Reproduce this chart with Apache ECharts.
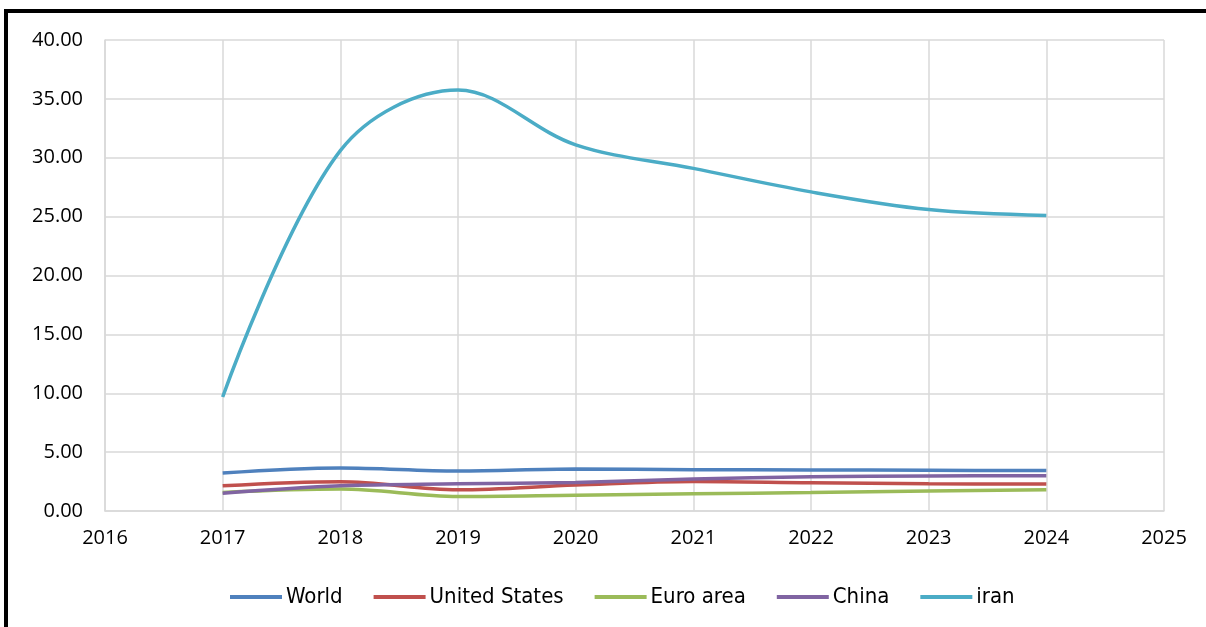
<!DOCTYPE html>
<html>
<head>
<meta charset="utf-8">
<script src="https://cdn.jsdelivr.net/npm/echarts@6/dist/echarts.min.js"></script>
<style>
  html, body { margin: 0; padding: 0; background: #fff; }
  #chart { width: 1206px; height: 627px; }
</style>
</head>
<body>
<div id="chart"></div>
<script>
// years on the x axis
var years = [2017, 2018, 2019, 2020, 2021, 2022, 2023, 2024];

// values
var world = [3.23, 3.66, 3.40, 3.57, 3.51, 3.49, 3.46, 3.43];
var unitedStates = [2.14, 2.49, 1.80, 2.20, 2.51, 2.40, 2.31, 2.29];
var euroArea = [1.57, 1.86, 1.23, 1.34, 1.46, 1.57, 1.69, 1.80];
var china = [1.51, 2.14, 2.31, 2.43, 2.71, 2.91, 2.97, 3.00];
var iran = [9.68, 30.6, 35.75, 31.1, 29.1, 27.1, 25.6, 25.1];

var seriesNames = ["World", "United States", "Euro area", "China", "iran"];
var seriesColors = ["#4F81BD", "#C0504D", "#9BBB59", "#8064A2", "#4BACC6"];
var seriesValues = [world, unitedStates, euroArea, china, iran];

var chart = echarts.init(document.getElementById("chart"));

function pairs(vals) {
  return years.map(function (y, i) { return [y, vals[i]]; });
}

var series = seriesNames.map(function (name, i) {
  return {
    name: name,
    type: "line",
    smooth: 0.35,
    showSymbol: false,
    symbol: "none",
    data: pairs(seriesValues[i]),
    lineStyle: { width: 3.5, color: seriesColors[i] },
    itemStyle: { color: seriesColors[i] }
  };
});

var gridColor = "#d9d9d9";

var option = {
  animation: false,
  backgroundColor: "#fff",
  grid: { left: 105, right: 42, top: 40, bottom: 116 },
  legend: {
    left: 225,
    top: 581,
    itemWidth: 52,
    itemHeight: 4,
    itemGap: 31,
    icon: "rect",
    textStyle: { fontFamily: "DejaVu Sans Condensed", fontSize: 22, color: "#000", padding: [0, 0, 0, -1] },
    data: seriesNames
  },
  xAxis: {
    type: "value",
    min: 2016,
    max: 2025,
    interval: 1,
    axisLine: { show: true, lineStyle: { color: gridColor, width: 1.5 } },
    axisTick: { show: false },
    splitLine: { show: true, lineStyle: { color: gridColor, width: 1.5 } },
    axisLabel: { color: "#000", fontFamily: "Open Sans", fontSize: 20, margin: 17, formatter: function (v) { return String(v); } }
  },
  yAxis: {
    type: "value",
    min: 0,
    max: 40,
    interval: 5,
    axisLine: { show: true, lineStyle: { color: gridColor, width: 1.5 } },
    axisTick: { show: false },
    splitLine: { show: true, lineStyle: { color: gridColor, width: 1.5 } },
    axisLabel: { color: "#000", fontFamily: "Open Sans", fontSize: 20, margin: 22, formatter: function (v) { return v.toFixed(2); } }
  },
  graphic: [
    {
      type: "polyline",
      silent: true,
      shape: { points: [[6, 627], [6, 11], [1206, 11]] },
      style: { stroke: "#000", lineWidth: 4, fill: null }
    }
  ],
  series: series
};

chart.setOption(option);
</script>
</body>
</html>
